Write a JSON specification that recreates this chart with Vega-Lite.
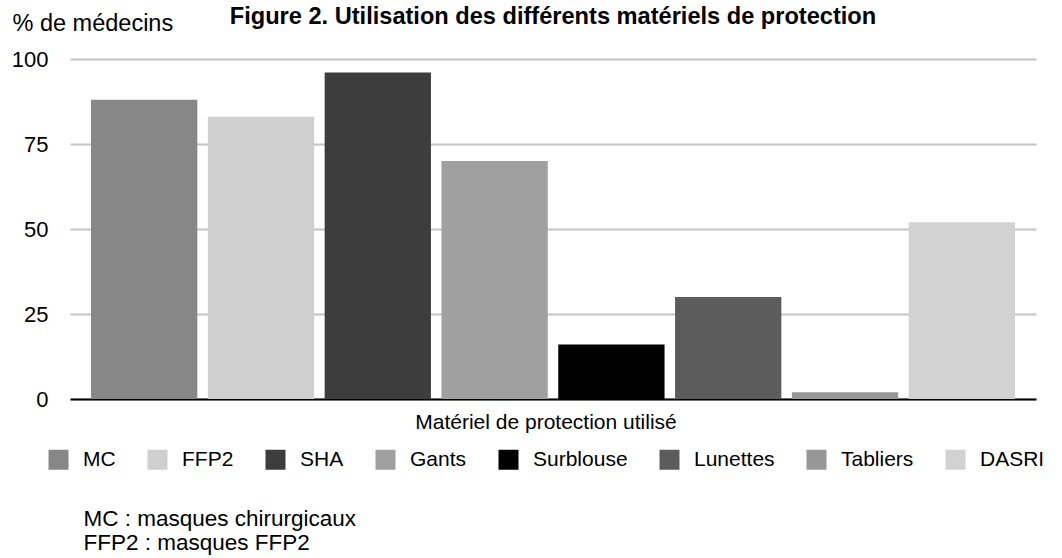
{
  "$schema": "https://vega.github.io/schema/vega-lite/v6.json",
  "width": 966,
  "height": 340,
  "autosize": {"type": "none"},
  "padding": {"left": 70, "top": 59, "right": 26, "bottom": 159},
  "background": "white",
  "config": {
    "font": "Liberation Sans",
    "view": {"stroke": null}
  },
  "title": {
    "text": "Figure 2. Utilisation des différents matériels de protection",
    "fontSize": 23.6,
    "fontWeight": "bold",
    "color": "#000000",
    "anchor": "middle",
    "frame": "group",
    "offset": -18
  },
  "data": {
    "values": [
      {"item": "MC", "pct": 88},
      {"item": "FFP2", "pct": 83},
      {"item": "SHA", "pct": 96},
      {"item": "Gants", "pct": 70},
      {"item": "Surblouse", "pct": 16},
      {"item": "Lunettes", "pct": 30},
      {"item": "Tabliers", "pct": 2},
      {"item": "DASRI", "pct": 52}
    ]
  },
  "mark": {"type": "bar"},
  "encoding": {
    "x": {
      "field": "item",
      "type": "nominal",
      "sort": null,
      "scale": {"paddingInner": 0.09, "paddingOuter": 0.18},
      "axis": {
        "labels": false,
        "ticks": false,
        "domainColor": "#000000",
        "domainWidth": 2,
        "title": ["MC : masques chirurgicaux", "FFP2 : masques FFP2"],
        "titleFontSize": 22.5,
        "titleFontWeight": "normal",
        "titleColor": "#000000",
        "titleAlign": "left",
        "titleAnchor": "start",
        "titleBaseline": "alphabetic",
        "titleLineHeight": 24,
        "titleX": 13,
        "titleY": 126
      }
    },
    "y": {
      "field": "pct",
      "type": "quantitative",
      "scale": {"domain": [0, 100]},
      "axis": {
        "values": [0, 25, 50, 75, 100],
        "domain": false,
        "ticks": false,
        "labelPadding": 22,
        "labelFontSize": 22,
        "labelColor": "#000000",
        "gridColor": "#c4c4c4",
        "gridWidth": 2,
        "title": "% de médecins",
        "titleFontSize": 23.5,
        "titleFontWeight": "normal",
        "titleColor": "#000000",
        "titleAngle": 0,
        "titleAlign": "left",
        "titleBaseline": "alphabetic",
        "titleX": -58,
        "titleY": -29
      }
    },
    "color": {
      "field": "item",
      "type": "nominal",
      "sort": null,
      "scale": {
        "domain": ["MC", "FFP2", "SHA", "Gants", "Surblouse", "Lunettes", "Tabliers", "DASRI"],
        "range": ["#878787", "#cfcfcf", "#3d3d3d", "#a0a0a0", "#000000", "#5c5c5c", "#979797", "#d2d2d2"]
      },
      "legend": {
        "orient": "none",
        "legendX": -22,
        "legendY": 353,
        "direction": "horizontal",
        "columns": 8,
        "columnPadding": 31,
        "symbolType": "square",
        "symbolSize": 400,
        "symbolStrokeWidth": 0,
        "symbolOpacity": 1,
        "labelOffset": 14,
        "labelFontSize": 21,
        "labelColor": "#000000",
        "title": "Matériel de protection utilisé",
        "titleFontSize": 21,
        "titleFontWeight": "normal",
        "titleColor": "#000000",
        "titleAnchor": "middle",
        "titleLimit": 1000,
        "titlePadding": 16
      }
    }
  }
}
